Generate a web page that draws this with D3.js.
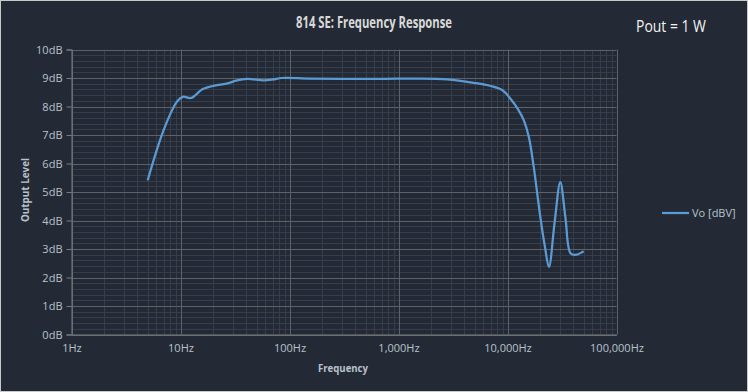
<!DOCTYPE html>
<html>
<head>
<meta charset="utf-8">
<script src="https://cdn.jsdelivr.net/npm/d3@7"></script>
<style>
  body { margin: 0; background: #fff; }
  svg text { font-family: "Open Sans", "Liberation Sans", sans-serif; }
</style>
</head>
<body>
<div id="chart"></div>
<script>
// data
const freqs = [5, 7, 9.25, 10.5, 12.5, 16, 21.5, 27, 33, 41, 58, 71, 85, 150, 300, 700, 1500, 2800, 4900, 7000, 9000, 10600, 12500, 14100, 15700, 17400, 20000, 22000, 24000, 27000, 30500, 34000, 38000, 43000, 50000];
const levels = [5.41, 7.17, 8.16, 8.34, 8.30, 8.61, 8.75, 8.81, 8.92, 8.97, 8.92, 8.95, 9.0, 8.98, 8.97, 8.97, 8.98, 8.95, 8.83, 8.72, 8.57, 8.28, 7.9, 7.52, 6.93, 5.88, 4.13, 3.1, 2.37, 3.9, 5.35, 4.1, 2.84, 2.8, 2.92];
const xTicks = [1, 10, 100, 1000, 10000, 100000];
const yTicks = [0, 1, 2, 3, 4, 5, 6, 7, 8, 9, 10];
const seriesName = "Vo [dBV]";

const WIDTH = 748;
const HEIGHT = 392;
const plot = { left: 71.5, right: 616.5, top: 49.5, bottom: 334.5 };

const svg = d3.select("#chart")
    .append("svg")
    .attr("width", WIDTH)
    .attr("height", HEIGHT);

svg.append("rect")
    .attr("x", 0.5).attr("y", 0.5)
    .attr("width", WIDTH - 1).attr("height", HEIGHT - 1)
    .attr("fill", "#232a35")
    .attr("stroke", "#c9c9c9");

const x = d3.scaleLog().domain([1, 100000]).range([plot.left, plot.right]);
const y = d3.scaleLinear().domain([0, 10]).range([plot.bottom, plot.top]);

// minor grid
const minorX = [];
for (let dec = 1; dec < 100000; dec *= 10) {
    for (let k = 2; k <= 9; k++) minorX.push(dec * k);
}
const minorY = d3.range(0, 10.01, 0.2).filter(v => Math.abs(v - Math.round(v)) > 0.01);

const grid = svg.append("g");
grid.selectAll(".mx").data(minorX).enter().append("line")
    .attr("x1", d => Math.round(x(d)) + 0.5).attr("x2", d => Math.round(x(d)) + 0.5)
    .attr("y1", plot.top).attr("y2", plot.bottom)
    .attr("stroke", "#363e4b").attr("stroke-width", 1);
grid.selectAll(".my").data(minorY).enter().append("line")
    .attr("y1", d => Math.round(y(d)) + 0.5).attr("y2", d => Math.round(y(d)) + 0.5)
    .attr("x1", plot.left).attr("x2", plot.right)
    .attr("stroke", "#363e4b").attr("stroke-width", 1);

// major grid
grid.selectAll(".Mx").data(xTicks).enter().append("line")
    .attr("x1", d => Math.round(x(d)) + 0.5).attr("x2", d => Math.round(x(d)) + 0.5)
    .attr("y1", plot.top).attr("y2", plot.bottom)
    .attr("stroke", "#5f6166").attr("stroke-width", 1);
grid.selectAll(".My").data(yTicks).enter().append("line")
    .attr("y1", d => Math.round(y(d)) + 0.5).attr("y2", d => Math.round(y(d)) + 0.5)
    .attr("x1", plot.left).attr("x2", plot.right)
    .attr("stroke", "#5f6166").attr("stroke-width", 1);

// y axis
const yAxis = d3.axisLeft(y).tickValues(yTicks).tickSize(5).tickFormat(d => d + "dB");
const ya = svg.append("g")
    .attr("transform", `translate(${plot.left},0)`)
    .call(yAxis);
ya.select(".domain").attr("stroke", "#7a7c80");
ya.selectAll(".tick line").attr("stroke", "#7a7c80");
ya.selectAll(".tick text")
    .attr("fill", "#b9c2cc")
    .attr("font-size", 11)
    .attr("x", -9);

// x axis labels
const xAxis = d3.axisBottom(x).tickValues(xTicks).tickSize(0)
    .tickFormat(d => d3.format(",")(d) + "Hz");
const xa = svg.append("g")
    .attr("transform", `translate(0,${plot.bottom})`)
    .call(xAxis);
xa.select(".domain").attr("stroke", "#7a7c80");
xa.selectAll(".tick text")
    .attr("fill", "#b9c2cc")
    .attr("font-size", 11)
    .attr("y", 10);

// curve
const line = d3.line()
    .x(d => x(d[0]))
    .y(d => y(d[1]))
    .curve(d3.curveCatmullRom.alpha(0.5));

svg.append("path")
    .datum(freqs.map((f, i) => [f, levels[i]]))
    .attr("d", line)
    .attr("fill", "none")
    .attr("stroke", "#5b9bd5")
    .attr("stroke-width", 2.25)
    .attr("stroke-linejoin", "round");

// titles
svg.append("text")
    .attr("x", 374).attr("y", 28)
    .attr("text-anchor", "middle")
    .attr("font-size", 16.5)
    .attr("font-weight", "bold")
    .attr("fill", "#d9d9d9")
    .attr("textLength", 156)
    .attr("lengthAdjust", "spacingAndGlyphs")
    .text("814 SE: Frequency Response");

svg.append("text")
    .attr("x", 671).attr("y", 32)
    .attr("text-anchor", "middle")
    .attr("font-size", 17)
    .attr("fill", "#f2f2f2")
    .attr("textLength", 70)
    .attr("lengthAdjust", "spacingAndGlyphs")
    .text("Pout = 1 W");

svg.append("text")
    .attr("transform", "translate(29,190) rotate(-90)")
    .attr("text-anchor", "middle")
    .attr("font-size", 10)
    .attr("font-weight", "bold")
    .attr("fill", "#b9c2cc")
    .attr("textLength", 64)
    .attr("lengthAdjust", "spacingAndGlyphs")
    .text("Output Level");

svg.append("text")
    .attr("x", 343).attr("y", 372)
    .attr("text-anchor", "middle")
    .attr("font-size", 11)
    .attr("font-weight", "bold")
    .attr("fill", "#b9c2cc")
    .attr("textLength", 50)
    .attr("lengthAdjust", "spacingAndGlyphs")
    .text("Frequency");

// legend
const legend = svg.append("g").attr("transform", "translate(662,213)");
legend.append("line")
    .attr("x1", 0).attr("x2", 27)
    .attr("stroke", "#5b9bd5").attr("stroke-width", 2.25);
legend.append("text")
    .attr("x", 30).attr("y", 4)
    .attr("font-size", 11)
    .attr("fill", "#b9c2cc")
    .text(seriesName);
</script>
</body>
</html>
